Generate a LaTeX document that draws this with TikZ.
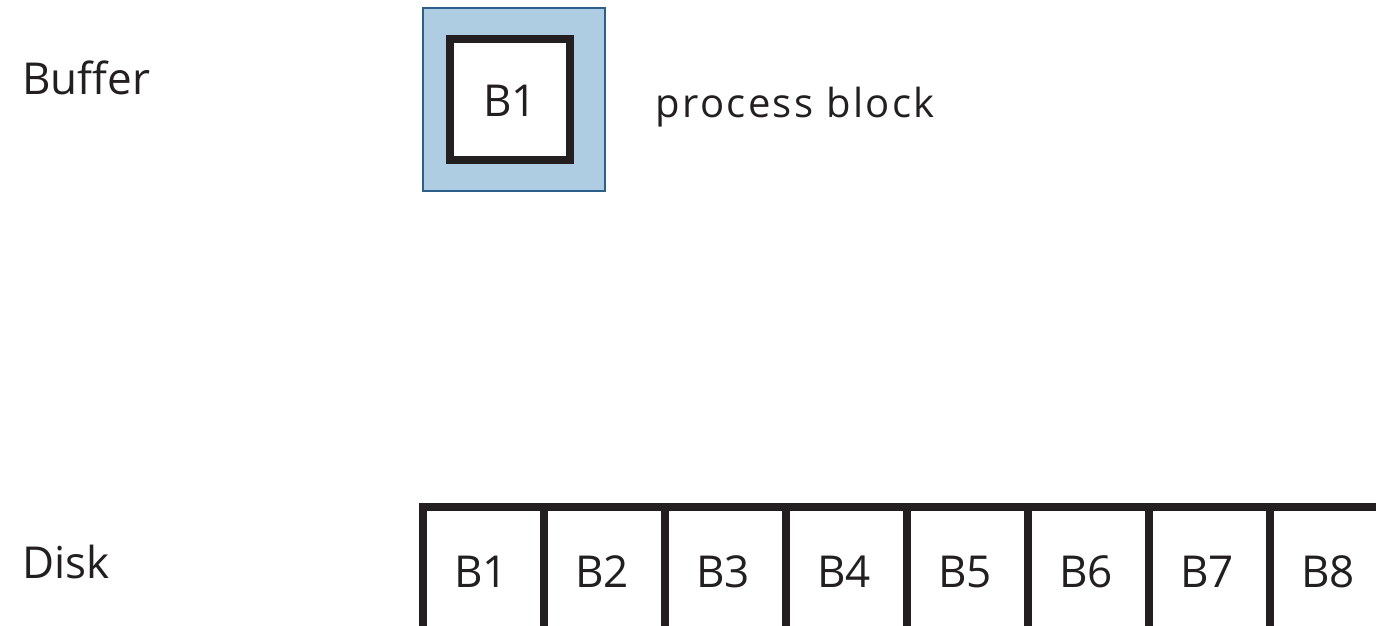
\documentclass[tikz,border=0pt]{standalone}
\usepackage{fontspec}
\setmainfont{Open Sans}
\newfontfamily\spaced[LetterSpace=6]{Open Sans}
\definecolor{ink}{HTML}{231F20}
\definecolor{bufblue}{HTML}{AECDE3}
\definecolor{bufedge}{HTML}{2C5F8A}
\begin{document}
\begin{tikzpicture}[x=1bp,y=-1bp,
  txt/.style={inner sep=0pt,anchor=base west,text=ink,font=\fontsize{44bp}{50bp}\selectfont},
  celltxt/.style={inner sep=0pt,anchor=base,text=ink,font=\fontsize{44bp}{50bp}\selectfont},
  cell/.style={draw=ink,line width=8bp,minimum width=121bp,minimum height=124bp,inner sep=0pt,fill=white},
  outerbox/.style={draw=bufedge,fill=bufblue,line width=2bp,minimum width=182bp,minimum height=183bp,inner sep=0pt},
  innerbox/.style={draw=ink,fill=white,line width=8bp,minimum width=120bp,minimum height=121bp,inner sep=0pt}]
\useasboundingbox (0,0) rectangle (1376,626);
% labels
\node[txt] (buffer) at (22,95) {Buffer};
\node[txt] (disk) at (22,578) {Disk};
% buffer
\node[outerbox] (outer) at (514,99.5) {};
\node[innerbox] (inner) at (510,99.5) {};
\node[celltxt] (b1buf) at (510,117) {B1};
\node[txt,font=\fontsize{40bp}{46bp}\selectfont] (proc) at (655,118) {\spaced process block};
% disk
\foreach \i in {1,...,8}{
  \node[cell] (c\i) at ({483.5+121*(\i-1)},569) {};
}
\foreach \i in {1,...,8}{
  \node[celltxt] (t\i) at ({481+121*(\i-1)},587) {B\i};
}
\end{tikzpicture}
\end{document}
